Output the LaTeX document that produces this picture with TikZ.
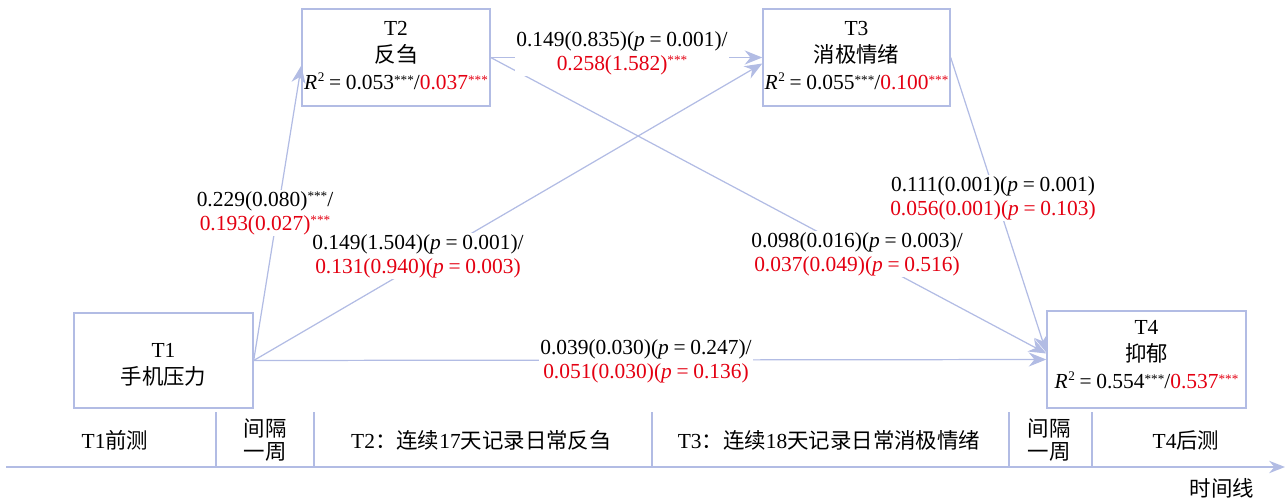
\documentclass[tikz,border=0pt]{standalone}
\usepackage{fontspec}
\setmainfont{Liberation Serif}
\newfontfamily\cjk{Noto Sans CJK SC}
\usetikzlibrary{arrows.meta,calc}
\definecolor{lc}{RGB}{178,188,228}
\definecolor{rd}{RGB}{228,0,18}
\newcommand\sig{\raisebox{0.55ex}{\fontsize{7.5}{7.5}\selectfont ***}}
\newcommand\rr[1]{\textcolor{rd}{#1}}
\newcommand\pp{\textit{p}}
\newcommand\Rsq{\textit{R}\kern0.3pt\raisebox{0.85ex}{\fontsize{7.5}{7.5}\selectfont 2}}
\newcommand\eq{\hspace{0.22em}=\hspace{0.22em}}
\begin{document}
\begin{tikzpicture}[x=0.02cm,y=-0.02cm, font=\fontsize{12.2}{14}\selectfont,
 box/.style={draw=lc, line width=0.8pt, align=center, inner sep=0pt, font=\fontsize{12.2}{15.5}\selectfont},
 lab/.style={fill=white, align=center, inner sep=1pt, font=\fontsize{12.2}{13.5}\selectfont},
 conn/.style={draw=lc, line width=0.7pt, -{Stealth[length=10pt,width=8pt]}},
 tl/.style={align=center, font=\fontsize{12.2}{13.5}\selectfont},
 divline/.style={draw=lc, line width=0.7pt}
]
\useasboundingbox (0,0) rectangle (1287,500);

% boxes
\node[box, minimum width=3.76cm, minimum height=1.94cm] (T2) at (396,57.5) {};
\node[box, minimum width=3.74cm, minimum height=1.94cm] (T3) at (856.5,57.5) {};
\node[box, minimum width=3.58cm, minimum height=1.90cm] (T1) at (163.5,360.5) {};
\node[box, minimum width=3.98cm, minimum height=1.94cm] (T4) at (1146.5,359.5) {};
\node[box, draw=none] (T2t) at ([yshift=0.04cm]T2.center) {T2\\{\cjk 反刍}\\\Rsq\eq0.053\sig/\rr{0.037\sig}};
\node[box, draw=none] (T3t) at ([yshift=0.04cm]T3.center) {T3\\{\cjk 消极情绪}\\\Rsq\eq0.055\sig/\rr{0.100\sig}};
\node[box, draw=none] (T1t) at ([yshift=-0.08cm]T1.center) {T1\\{\cjk 手机压力}};
\node[box, draw=none] (T4t) at ([yshift=0.1cm]T4.center) {T4\\{\cjk 抑郁}\\\Rsq\eq0.554\sig/\rr{0.537\sig}};

% connectors
\draw[conn] (T1.east) -- ([yshift=-0.16cm]T2.west);
\draw[conn] (T1.east) -- ([yshift=-0.12cm]T3.west);
\draw[conn] (T1.east) -- (T4.west);
\draw[conn] (T2.east) -- (T3.west);
\draw[conn] (T2.east) -- ([yshift=0.12cm]T4.west);
\draw[conn] (T3.east) -- ([yshift=0.14cm]T4.west);

% labels
\node[lab] (l12) at (265,213) {0.229(0.080)\sig/\\\rr{0.193(0.027)\sig}};
\node[lab] (l13) at (418,256) {0.149(1.504)(\pp\eq0.001)/\\\rr{0.131(0.940)(\pp\eq0.003)}};
\node[lab] (l14) at (646,361) {0.039(0.030)(\pp\eq0.247)/\\\rr{0.051(0.030)(\pp\eq0.136)}};
\node[lab] (l23) at (622,53) {0.149(0.835)(\pp\eq0.001)/\\\rr{0.258(1.582)\sig}};
\node[lab] (l24) at (857,254) {0.098(0.016)(\pp\eq0.003)/\\\rr{0.037(0.049)(\pp\eq0.516)}};
\node[lab] (l34) at (993,198) {0.111(0.001)(\pp\eq0.001)\\\rr{0.056(0.001)(\pp\eq0.103)}};

% timeline
\coordinate (a0) at (6,467);
\coordinate (a1) at (1285,467);
\draw[draw=lc, line width=1.2pt, -{Stealth[length=9pt,width=7pt]}] (a0) -- (a1);
\foreach \x [count=\i] in {216,314,652,1009,1092}{
  \coordinate (d\i t) at (\x,412);
  \coordinate (d\i b) at (\x,467);
  \draw[divline] (d\i t) -- (d\i b);
}
\node[tl] (p1) at (115,440) {T1{\cjk 前测}};
\node[tl] (p2) at (265,440) {{\cjk 间隔}\\{\cjk 一周}};
\node[tl] (p3) at (481,440) {T2{\cjk ：连续}17{\cjk 天记录日常反刍}};
\node[tl] (p4) at (829,440) {T3{\cjk ：连续}18{\cjk 天记录日常消极情绪}};
\node[tl] (p5) at (1049,440) {{\cjk 间隔}\\{\cjk 一周}};
\node[tl] (p6) at (1186,440) {T4{\cjk 后测}};
\node[tl] (tx) at (1222,488) {{\cjk 时间线}};
\end{tikzpicture}
\end{document}
